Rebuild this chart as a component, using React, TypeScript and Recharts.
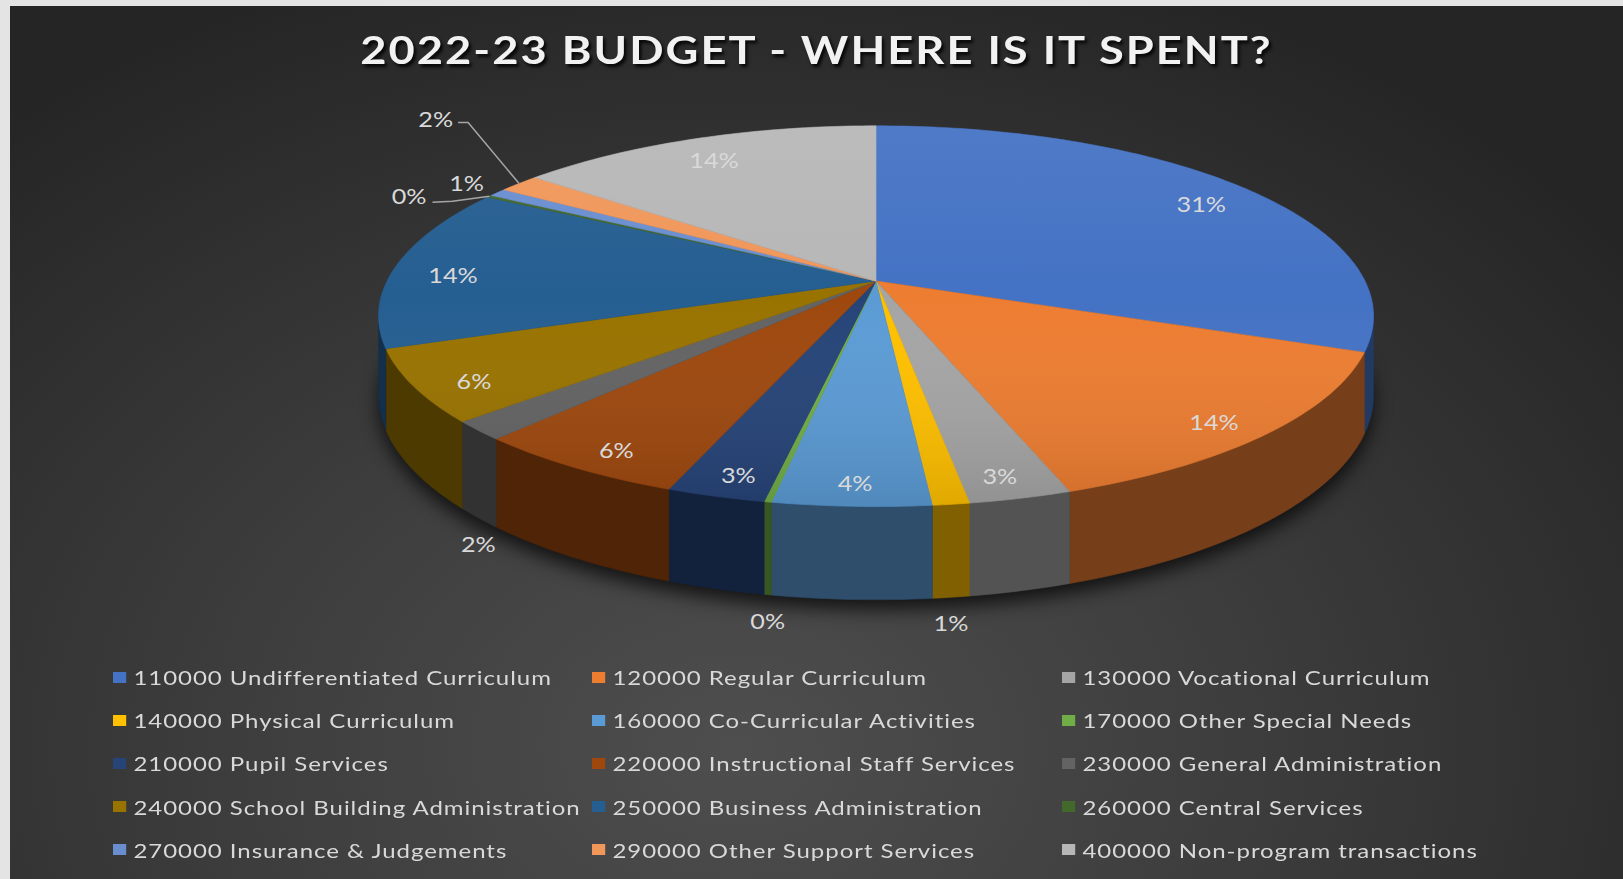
import { PieChart, Pie, Cell, Legend } from 'recharts';

const codes = ['110000', '120000', '130000', '140000', '160000', '170000', '210000', '220000', '230000', '240000', '250000', '260000', '270000', '290000', '400000'];
const categories = [
  'Undifferentiated Curriculum',
  'Regular Curriculum',
  'Vocational Curriculum',
  'Physical Curriculum',
  'Co-Curricular Activities',
  'Other Special Needs',
  'Pupil Services',
  'Instructional Staff Services',
  'General Administration',
  'School Building Administration',
  'Business Administration',
  'Central Services',
  'Insurance & Judgements',
  'Other Support Services',
  'Non-program transactions',
];
// share of the budget, %
const shares = [30.9, 13.8, 2.8, 1.0, 4.3, 0.2, 2.7, 6.0, 1.6, 6.1, 13.9, 0.2, 0.7, 1.6, 14.2];
const colors = ['#4472C4', '#ED7D31', '#A5A5A5', '#FFC000', '#5B9BD5', '#70AD47', '#264478', '#9E480E', '#636363', '#997300', '#255E91', '#43682B', '#698ED0', '#F1975A', '#B7B7B7'];

const data = codes.map((code, i) => ({
  code,
  name: `${code} ${categories[i]}`,
  value: shares[i],
  color: colors[i],
}));

const FONT = 'Lato, "Open Sans", sans-serif';
const TEXT = '#d9d9d9';

// fake 3d: tilt, perspective and thickness of the disc
const FLAT = 0.376;
const PERSP = 0.1845;
const DEPTH = 76;
const SIL = (Math.asin(PERSP) * 180) / Math.PI;

function project(cx: number, cy: number, r: number, deg: number, frac: number, h: number) {
  const a = (deg * Math.PI) / 180;
  const u = frac * Math.cos(a);
  const v = -frac * Math.sin(a);
  const w = 1 - PERSP * v;
  return [cx + (r * u) / w, cy + (r * FLAT * v + DEPTH * h) / w];
}

function arc(cx: number, cy: number, r: number, from: number, to: number, h: number) {
  const n = Math.max(2, Math.ceil(Math.abs(to - from)));
  const pts: number[][] = [];
  for (let i = 0; i <= n; i++) pts.push(project(cx, cy, r, from + ((to - from) * i) / n, 1, h));
  return pts;
}

const toPath = (pts: number[][]) => pts.map((p, i) => `${i ? 'L' : 'M'}${p[0].toFixed(1)},${p[1].toFixed(1)}`).join('');

function shade(hex: string, f: number) {
  const n = parseInt(hex.slice(1), 16);
  const c = [(n >> 16) & 255, (n >> 8) & 255, n & 255].map((x) => Math.round(x * f));
  return `rgb(${c.join(',')})`;
}

function Slice(props: any) {
  const { cx, cy, outerRadius, startAngle, endAngle, fill } = props;
  const code = props.code ?? props.payload?.code;
  const hi = Math.max(startAngle, endAngle);
  const lo = Math.min(startAngle, endAngle);
  const top = arc(cx, cy, outerRadius, hi, lo, 0);
  const topPath = `M${cx},${cy}` + toPath(top).replace('M', 'L') + 'Z';

  // front wall between the two silhouette points
  const wHi = Math.min(hi, -SIL);
  const wLo = Math.max(lo, -180 + SIL);
  let wall = null;
  if (wHi > wLo) {
    const upper = arc(cx, cy, outerRadius, wHi, wLo, 0);
    const lower = arc(cx, cy, outerRadius, wLo, wHi, 1);
    wall = <path d={toPath([...upper, ...lower]) + 'Z'} fill={shade(fill, 0.5)} stroke={shade(fill, 0.5)} strokeWidth={0.6} />;
  }

  let extra = null;
  if (code === codes[0]) {
    const ring = arc(cx, cy, outerRadius, 0, 360, 1);
    const topY = cy - (outerRadius * FLAT) / (1 + PERSP);
    const botY = cy + (outerRadius * FLAT) / (1 - PERSP);
    extra = (
      <>
        <defs>
          <linearGradient id="topGloss" gradientUnits="userSpaceOnUse" x1={0} y1={topY} x2={0} y2={botY}>
            <stop offset="0%" stopColor="#fff" stopOpacity={0.06} />
            <stop offset="45%" stopColor="#fff" stopOpacity={0} />
            <stop offset="100%" stopColor="#000" stopOpacity={0.12} />
          </linearGradient>
        </defs>
        <path d={toPath(ring) + 'Z'} fill="rgba(0,0,0,0.7)" transform="translate(0,10)" style={{ filter: 'blur(9px)' }} />
      </>
    );
  }

  return (
    <g>
      {extra}
      {wall}
      <path d={topPath} fill={fill} stroke={fill} strokeWidth={0.6} />
      <path d={topPath} fill="url(#topGloss)" />
    </g>
  );
}

// leader lines for the crowded small slices at the back
const CALLOUTS: Record<string, { line: number[][]; text: number[]; anchor: string }> = {
  '260000': { line: [[-37, 5], [-57, 6]], text: [-63, 0], anchor: 'end' },
  '270000': { line: [], text: [-31, -10], anchor: 'middle' },
  '290000': { line: [[-51, -61], [-61, -61]], text: [-66, -65], anchor: 'end' },
};

function PctLabel(props: any) {
  const { cx, cy, midAngle, outerRadius, percent } = props;
  const code = props.code ?? props.payload?.code;
  const label = `${Math.round(percent * 100)}%`;
  const txt = (x: number, y: number, anchor = 'middle') => (
    <text
      transform={`translate(${x},${y}) scale(1.2,1)`}
      textAnchor={anchor}
      dominantBaseline="central"
      fill={TEXT}
      fontSize={21}
      fontFamily={FONT}
    >
      {label}
    </text>
  );
  if (percent >= 0.025) {
    const [x, y] = project(cx, cy, outerRadius, midAngle, 0.88, 0.1);
    return txt(x, y);
  }
  const v = -Math.sin((midAngle * Math.PI) / 180);
  if (v >= 0) {
    const [x, y] = project(cx, cy, outerRadius, midAngle, 1, 1);
    return txt(x, y + 26);
  }
  const [x0, y0] = project(cx, cy, outerRadius, midAngle, 1, 0);
  const c = CALLOUTS[code] ?? { line: [], text: [-30, -12], anchor: 'middle' };
  return (
    <g>
      {c.line.length > 0 && (
        <polyline
          points={[[0, 0], ...c.line].map(([dx, dy]) => `${x0 + dx},${y0 + dy}`).join(' ')}
          fill="none"
          stroke="#a6a6a6"
          strokeWidth={1.5}
        />
      )}
      {txt(x0 + c.text[0], y0 + c.text[1], c.anchor)}
    </g>
  );
}

const COLS = [113, 592, 1062];

function LegendGrid({ payload }: any) {
  return (
    <div style={{ position: 'relative', width: 1623, height: 217 }}>
      {(payload ?? []).map((p: any, i: number) => (
        <div
          key={p.value}
          style={{
            position: 'absolute',
            left: COLS[i % 3],
            top: Math.floor(i / 3) * 43.2,
            height: 40,
            display: 'flex',
            alignItems: 'center',
            whiteSpace: 'nowrap',
            transform: 'scaleX(1.2)',
            transformOrigin: 'left center',
            fontFamily: FONT,
            fontSize: 20,
            letterSpacing: 0.8,
            color: TEXT,
          }}
        >
          <span style={{ width: 11, height: 11, background: p.color ?? colors[i], marginRight: 6 }} />
          <span>{p.value}</span>
        </div>
      ))}
    </div>
  );
}

export default function App() {
  return (
    <div style={{ position: 'fixed', left: 0, top: 0, width: 1623, height: 879, background: '#e4e4e4', overflow: 'hidden' }}>
      <div
        style={{
          position: 'absolute',
          left: 10,
          top: 6,
          right: 0,
          bottom: 0,
          background: 'radial-gradient(ellipse 70% 95% at 45% 85%, #4e4e4e 0%, #3d3d3d 45%, #252525 100%)',
        }}
      />
      <div
        style={{
          position: 'absolute',
          left: 10,
          right: 0,
          top: 27,
          textAlign: 'center',
          fontFamily: FONT,
          fontWeight: 700,
          fontSize: 38,
          lineHeight: 1.2,
          letterSpacing: 1.7,
          color: '#f2f2f2',
          textShadow: '2px 3px 3px rgba(0,0,0,0.85)',
          transform: 'scaleX(1.19)',
        }}
      >
        2022-23 BUDGET - WHERE IS IT SPENT?
      </div>
      <div style={{ position: 'absolute', left: 0, top: 0 }}>
        <PieChart width={1623} height={879} margin={{ top: 0, right: 0, bottom: 0, left: 0 }}>
          <Pie
            data={data}
            dataKey="value"
            nameKey="name"
            cx={876}
            cy={281}
            outerRadius={489}
            startAngle={90}
            endAngle={-270}
            stroke="none"
            shape={Slice}
            inactiveShape={Slice}
            label={PctLabel}
            labelLine={false}
            isAnimationActive={false}
          >
            {data.map((d) => (
              <Cell key={d.code} fill={d.color} />
            ))}
          </Pie>
          <Legend content={LegendGrid} wrapperStyle={{ left: 0, top: 657, bottom: 'auto', width: 1623, height: 217 }} />
        </PieChart>
      </div>
    </div>
  );
}
